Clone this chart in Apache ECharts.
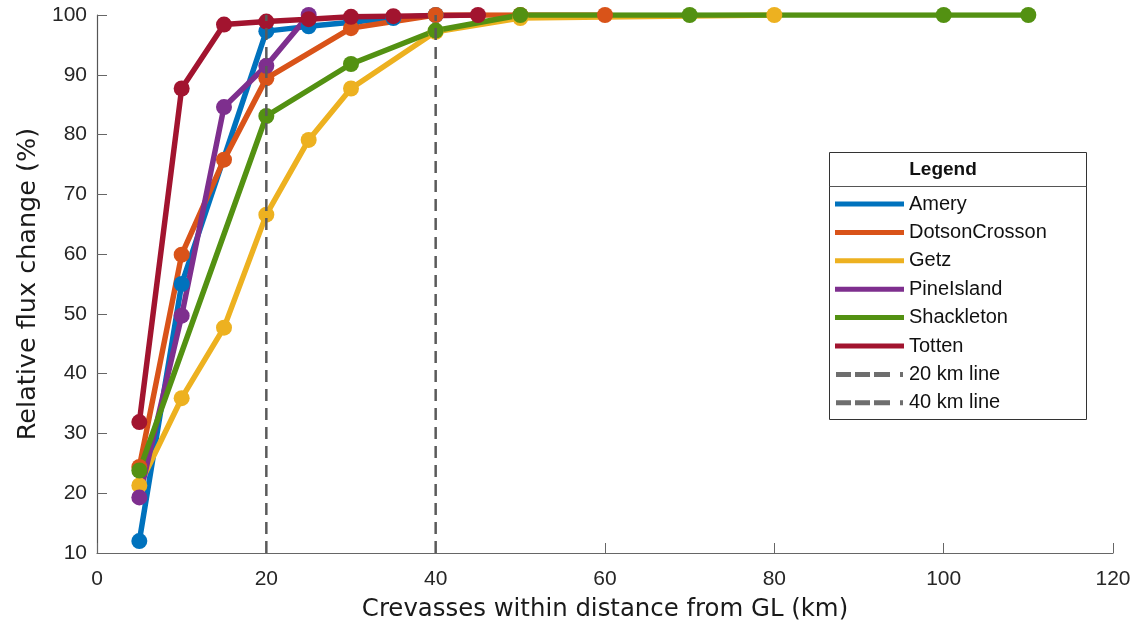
<!DOCTYPE html>
<html>
<head>
<meta charset="utf-8">
<script src="https://cdn.jsdelivr.net/npm/echarts@6/dist/echarts.min.js"></script>
<style>
  html, body { margin: 0; padding: 0; background: #fff; }
  #main { width: 1137px; height: 630px; }
</style>
</head>
<body>
<div id="main"></div>
<script>
// data (x = km, y = %)
var ameryX = [5, 10, 20, 25, 30, 35, 40];
var ameryY = [12.0, 55.0, 97.3, 98.1, 98.8, 99.5, 100];
var dotsonX = [5, 10, 15, 20, 30, 40, 50, 60];
var dotsonY = [24.4, 59.9, 75.8, 89.4, 97.8, 100, 100, 100];
var getzX = [5, 10, 15, 20, 25, 30, 40, 50, 80];
var getzY = [21.3, 35.9, 47.7, 66.6, 79.1, 87.7, 97.2, 99.5, 100];
var pineX = [5, 10, 15, 20, 25];
var pineY = [19.3, 49.7, 84.6, 91.5, 100];
var shackX = [5, 20, 30, 40, 50, 70, 100, 110];
var shackY = [23.8, 83.1, 91.8, 97.4, 100, 100, 100, 100];
var tottenX = [5, 10, 15, 20, 25, 30, 35, 45];
var tottenY = [31.9, 87.7, 98.4, 98.9, 99.3, 99.7, 99.8, 100];

var refLines = [20, 40];
var xTicks = [0, 120, 20];   // min, max, step
var yTicks = [10, 100, 10];

var names = ['Amery', 'DotsonCrosson', 'Getz', 'PineIsland', 'Shackleton', 'Totten'];
var colors = ['#0072BD', '#D95319', '#EDB120', '#7E2F8E', '#539112', '#A2142F'];
var xs = [ameryX, dotsonX, getzX, pineX, shackX, tottenX];
var ys = [ameryY, dotsonY, getzY, pineY, shackY, tottenY];

function pairs(a, b) {
    return a.map(function (v, i) { return [v, b[i]]; });
}

var series = [];
names.forEach(function (n, i) {
    series.push({
        name: n,
        type: 'line',
        data: pairs(xs[i], ys[i]),
        symbol: 'circle',
        symbolSize: 16,
        color: colors[i],
        lineStyle: { width: 5.5, color: colors[i] },
        itemStyle: { color: colors[i] },
        animation: false
    });
});
refLines.forEach(function (km) {
    series.push({
        name: km + ' km line',
        type: 'line',
        data: [[km, yTicks[0]], [km, yTicks[1]]],
        symbol: 'none',
        color: '#5a5a5a',
        lineStyle: { width: 2.5, type: [12, 7], color: '#5a5a5a' },
        z: 5,
        animation: false
    });
});

var dashIcon = 'path://M0,0h15v5h-15z M19,0h15v5h-15z M38,0h16v5h-16z M64,0h3v5h-3z';
var legendData = names.map(function (n, i) {
    return { name: n, icon: 'rect', itemStyle: { color: colors[i] } };
});
refLines.forEach(function (km) {
    legendData.push({ name: km + ' km line', icon: dashIcon, itemStyle: { color: '#6e6e6e' } });
});

var chart = echarts.init(document.getElementById('main'));
chart.setOption({
    backgroundColor: '#fff',
    animation: false,
    grid: { left: 97, right: 24, top: 15, bottom: 77 },
    xAxis: {
        type: 'value',
        min: xTicks[0], max: xTicks[1], interval: xTicks[2],
        name: 'Crevasses within distance from GL (km)',
        nameLocation: 'middle',
        nameGap: 45,
        nameTextStyle: { fontFamily: 'DejaVu Sans', fontSize: 24.4, color: '#1a1a1a' },
        axisLine: { lineStyle: { color: '#666', width: 1.2 } },
        axisTick: { inside: true, length: 10, lineStyle: { color: '#666' } },
        axisLabel: { fontFamily: 'Liberation Sans', fontSize: 21, color: '#262626', margin: 16 },
        splitLine: { show: false }
    },
    yAxis: {
        type: 'value',
        min: yTicks[0], max: yTicks[1], interval: yTicks[2],
        name: 'Relative flux change (%)',
        nameLocation: 'middle',
        nameGap: 55,
        nameTextStyle: { fontFamily: 'DejaVu Sans', fontSize: 25.5, color: '#1a1a1a' },
        axisLine: { show: true, lineStyle: { color: '#555', width: 1.2 } },
        axisTick: { show: true, inside: true, length: 10, lineStyle: { color: '#666' } },
        axisLabel: { fontFamily: 'Liberation Sans', fontSize: 21, color: '#262626', margin: 10 },
        splitLine: { show: false }
    },
    legend: {
        orient: 'vertical',
        left: 835,
        top: 194,
        padding: 0,
        itemWidth: 69,
        itemHeight: 5,
        itemGap: 8.4,
        textStyle: { fontFamily: 'Liberation Sans', fontSize: 20, color: '#111', lineHeight: 20 },
        data: legendData
    },
    graphic: [
        {
            type: 'rect',
            shape: { x: 829.5, y: 152.5, width: 257, height: 267 },
            style: { fill: '#fff', stroke: '#333', lineWidth: 1 },
            z: 0
        },
        {
            type: 'line',
            shape: { x1: 829.5, y1: 186.5, x2: 1086.5, y2: 186.5 },
            style: { stroke: '#555', lineWidth: 1 },
            z: 1
        },
        {
            type: 'text',
            x: 943, y: 170,
            style: {
                text: 'Legend', fontFamily: 'Liberation Sans', fontWeight: 'bold',
                fontSize: 19, fill: '#111', align: 'center', verticalAlign: 'middle'
            },
            z: 1
        }
    ],
    series: series
});
</script>
</body>
</html>
